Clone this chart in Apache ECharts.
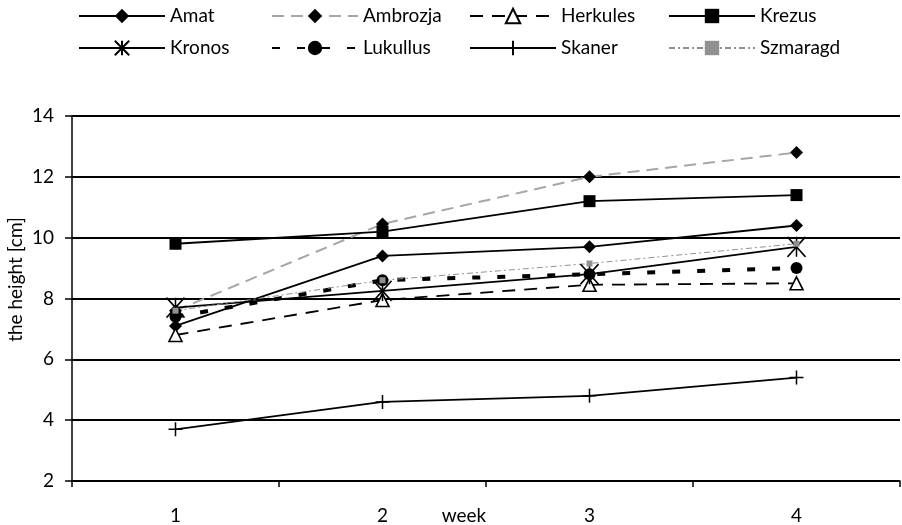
<!DOCTYPE html>
<html>
<head>
<meta charset="utf-8">
<script src="https://cdn.jsdelivr.net/npm/echarts@6/dist/echarts.min.js"></script>
<style>html,body{margin:0;padding:0;background:#fff}#c{width:902px;height:525px}</style>
</head>
<body>
<div id="c"></div>
<script>
var weeks = ['1', '2', '3', '4'];
var yTicks = [2, 4, 6, 8, 10, 12, 14];
var amat = [7.1, 9.4, 9.7, 10.4];
var ambrozja = [7.6, 10.45, 12.0, 12.8];
var herkules = [6.8, 7.95, 8.45, 8.5];
var krezus = [9.8, 10.2, 11.2, 11.4];
var kronos = [7.7, 8.25, 8.8, 9.7];
var lukullus = [7.4, 8.6, 8.8, 9.0];
var skaner = [3.7, 4.6, 4.8, 5.4];
var szmaragd = [7.6, 8.6, 9.15, 9.8];

var FONT = 'Lato';
var chart = echarts.init(document.getElementById('c'), null, {renderer: 'canvas'});

function legendCol(left, names) {
  return {
    orient: 'vertical', left: left, top: 6, padding: 0,
    itemWidth: 86, itemHeight: 18, itemGap: 12,
    textStyle: {fontFamily: FONT, fontSize: 19, color: '#000', lineHeight: 20},
    data: names
  };
}

var asterisk = 'path://M0,0L20,20M20,0L0,20M10,0L10,20';
var plus = 'path://M10,0L10,20M0,10L20,10';

var option = {
  animation: false,
  legend: [
    legendCol(78, ['Amat', 'Kronos']),
    legendCol(271, ['Ambrozja', 'Lukullus']),
    legendCol(469, ['Herkules', 'Skaner']),
    legendCol(668, ['Krezus', 'Szmaragd'])
  ],
  grid: {left: 72, right: 2, top: 116, bottom: 44, outerBoundsMode: 'none', containLabel: false},
  xAxis: {
    type: 'category', data: weeks, boundaryGap: true,
    name: 'week', nameLocation: 'middle', nameGap: 25, nameMoveOverlap: false,
    nameTextStyle: {fontFamily: FONT, fontSize: 19, color: '#000', padding: [0, 44, 0, 0], verticalAlign: 'top'},
    axisLine: {lineStyle: {color: '#000', width: 1.5}},
    axisTick: {show: true, length: 6, lineStyle: {color: '#000', width: 1.5}},
    axisLabel: {fontFamily: FONT, fontSize: 19, color: '#000', margin: 25}
  },
  yAxis: {
    type: 'value', min: yTicks[0], max: yTicks[yTicks.length - 1], interval: 2,
    name: 'the height [cm]', nameLocation: 'middle', nameGap: 47, nameMoveOverlap: false,
    nameTextStyle: {fontFamily: FONT, fontSize: 19, color: '#000', padding: [0, 0, 0, 38]},
    axisLine: {show: true, lineStyle: {color: '#000', width: 1.5}},
    axisTick: {show: true, length: 7, lineStyle: {color: '#000', width: 1.5}},
    axisLabel: {fontFamily: FONT, fontSize: 19, color: '#000', margin: 18},
    splitLine: {show: true, lineStyle: {color: '#000', width: 2}}
  },
  series: [
    {name: 'Amat', type: 'line', data: amat, color: '#000', symbol: 'diamond', symbolSize: 13,
      lineStyle: {color: '#000', width: 1.8}, itemStyle: {color: '#000'}},
    {name: 'Ambrozja', type: 'line', data: ambrozja, color: '#000', symbol: 'diamond', symbolSize: 13,
      lineStyle: {color: '#a6a6a6', width: 2, type: [12, 7]}, itemStyle: {color: '#000'}},
    {name: 'Herkules', type: 'line', data: herkules, color: '#000', symbol: 'triangle', symbolSize: 13,
      lineStyle: {color: '#000', width: 1.8, type: [13, 9]}, itemStyle: {color: '#fff', borderColor: '#000', borderWidth: 1.6}},
    {name: 'Krezus', type: 'line', data: krezus, color: '#000', symbol: 'rect', symbolSize: 12,
      lineStyle: {color: '#000', width: 1.8}, itemStyle: {color: '#000'}},
    {name: 'Kronos', type: 'line', data: kronos, color: '#000', symbol: asterisk, symbolSize: [18, 20],
      lineStyle: {color: '#000', width: 1.8}, itemStyle: {color: '#000', borderColor: '#000', borderWidth: 1.6}},
    {name: 'Lukullus', type: 'line', data: lukullus, color: '#000', symbol: 'circle', symbolSize: 12,
      lineStyle: {color: '#000', width: 4, type: [8, 17]}, itemStyle: {color: '#000'}},
    {name: 'Skaner', type: 'line', data: skaner, color: '#000', symbol: plus, symbolSize: 14,
      lineStyle: {color: '#000', width: 1.8}, itemStyle: {color: '#000', borderColor: '#000', borderWidth: 1.5}},
    {name: 'Szmaragd', type: 'line', data: szmaragd, color: '#909090', symbol: 'rect', symbolSize: 6,
      lineStyle: {color: '#909090', width: 1, type: [6, 3, 2, 3]}, itemStyle: {color: '#909090'}}
  ]
};
chart.setOption(option);
</script>
</body>
</html>
